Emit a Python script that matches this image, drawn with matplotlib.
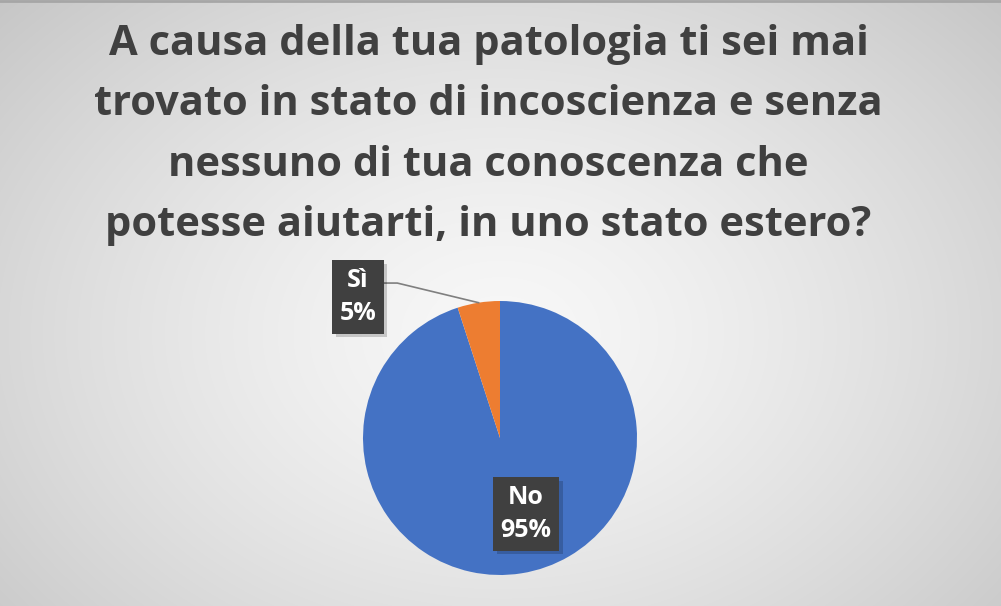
import numpy as np
import matplotlib.pyplot as plt
import matplotlib.patheffects as pe

plt.rcParams['font.family'] = ['Open Sans', 'DejaVu Sans']

title = ("A causa della tua patologia ti sei mai\n"
         "trovato in stato di incoscienza e senza\n"
         "nessuno di tua conoscenza che\n"
         "potesse aiutarti, in uno stato estero?")
labels = ['No', 'Sì']
values = [95, 5]
colors = ['#4472C4', '#ED7D31']

W, H = 1001, 606
fig = plt.figure(figsize=(W / 100, H / 100), dpi=100)

# radial gradient background
bg = fig.add_axes([0, 0, 1, 1])
yy, xx = np.mgrid[0:H, 0:W]
r = np.sqrt(((xx - W * 0.5) / (W * 0.62)) ** 2 + ((yy - H * 0.55) / (H * 0.75)) ** 2)
shade = 0.97 - 0.17 * np.clip(r, 0, 1.2) ** 1.4
bg.imshow(np.dstack([shade] * 3), aspect='auto', extent=[0, 1, 0, 1])
bg.plot([0, 1], [0.999, 0.999], color='#a6a6a6', lw=2)
bg.set_xlim(0, 1)
bg.set_ylim(0, 1)
bg.axis('off')

fig.text(0.488, 0.96, title, ha='center', va='top', fontsize=30,
         fontweight='bold', color='#404040', linespacing=1.62)

# pie
cx, cy, rad = 500, 438, 137
ax = fig.add_axes([(cx - rad) / W, (H - cy - rad) / H, 2 * rad / W, 2 * rad / H])
wedges, _ = ax.pie(values, colors=colors, startangle=90, counterclock=False,
                   radius=1, wedgeprops=dict(linewidth=0))
ax.set_xlim(-1, 1)
ax.set_ylim(-1, 1)
ax.set_aspect('equal')
ax.axis('off')

def box_label(x, y, txt):
    t = ax.text(x, y, txt, ha='center', va='center', fontsize=18, fontweight='bold',
                color='white', linespacing=1.45,
                bbox=dict(boxstyle='square,pad=0.3', fc='#404040', ec='none'),
                clip_on=False, zorder=5)
    t.get_bbox_patch().set_path_effects(
        [pe.SimplePatchShadow(offset=(2.5, -2.5), shadow_rgbFace='black', alpha=0.18),
         pe.Normal()])

# leader line for the small slice
ang = np.deg2rad(90 + 360 * values[1] / sum(values) / 2)
ex, ey = np.cos(ang), np.sin(ang)
ax.plot([-0.854, -0.75, ex * 1.0], [1.131, 1.131, ey * 1.0], color='#7f7f7f',
        lw=1.2, clip_on=False, zorder=3)

box_label(-1.036, 1.03, f'{labels[1]}\n{values[1]}%')
box_label(0.19, -0.555, f'{labels[0]}\n{values[0]}%')

fig.savefig('out.png', dpi=100)
